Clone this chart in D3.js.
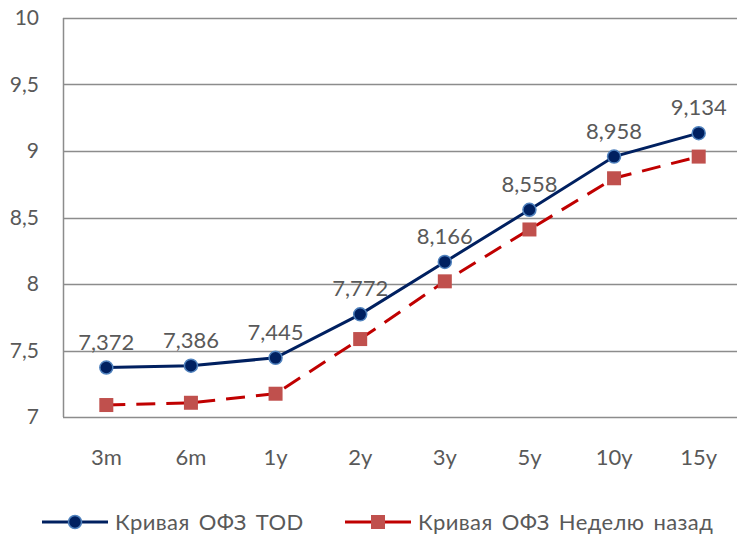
<!DOCTYPE html>
<html>
<head>
<meta charset="utf-8">
<script src="https://cdn.jsdelivr.net/npm/d3@7"></script>
<style>
  body { margin: 0; background: #fff; }
  text { font-family: Lato, "Open Sans", sans-serif; fill: #595959; }
</style>
</head>
<body>
<div id="chart"></div>
<script>
const categories = ['3m', '6m', '1y', '2y', '3y', '5y', '10y', '15y'];
const todValues = [7.372, 7.386, 7.445, 7.772, 8.166, 8.558, 8.958, 9.134];
const weekAgoValues = [7.09, 7.107, 7.175, 7.586, 8.02, 8.41, 8.795, 8.958];
const yTicks = [7, 7.5, 8, 8.5, 9, 9.5, 10];
const seriesNames = ['Кривая ОФЗ TOD', 'Кривая ОФЗ Неделю назад'];

const width = 737, height = 535;
const svg = d3.select('#chart').append('svg')
    .attr('width', width)
    .attr('height', height);

const x = d3.scaleBand().domain(categories).range([64, 741]);
const y = d3.scaleLinear().domain([7, 10]).range([417, 18]);
const fmt = v => String(v).replace('.', ',');

// gridlines
svg.append('g').selectAll('line')
    .data(yTicks)
    .join('line')
    .attr('x1', 63).attr('x2', width)
    .attr('y1', d => Math.round(y(d)) + 0.5).attr('y2', d => Math.round(y(d)) + 0.5)
    .attr('stroke', '#8c8c8c').attr('stroke-width', 1.5);

// left axis line
svg.append('line')
    .attr('x1', 63.5).attr('x2', 63.5)
    .attr('y1', y(10)).attr('y2', y(7))
    .attr('stroke', '#8c8c8c').attr('stroke-width', 1.5);

// y labels
svg.append('g').selectAll('text')
    .data(yTicks)
    .join('text')
    .attr('x', 39).attr('y', d => y(d))
    .attr('dy', '0.35em')
    .attr('text-anchor', 'end')
    .style('font-size', '21px')
    .text(fmt);

// x labels
svg.append('g').selectAll('text')
    .data(categories)
    .join('text')
    .attr('x', d => x(d) + x.bandwidth() / 2)
    .attr('y', 465)
    .attr('text-anchor', 'middle')
    .style('font-size', '22px')
    .text(d => d);

const cx = (d, i) => x(categories[i]) + x.bandwidth() / 2;
const line = d3.line().x(cx).y(d => y(d));

// week ago series
svg.append('path')
    .datum(weekAgoValues)
    .attr('d', line)
    .attr('fill', 'none')
    .attr('stroke', '#c00000')
    .attr('stroke-width', 3)
    .attr('stroke-dasharray', '19,11');

svg.append('g').selectAll('rect')
    .data(weekAgoValues)
    .join('rect')
    .attr('x', (d, i) => cx(d, i) - 7)
    .attr('y', d => y(d) - 7)
    .attr('width', 14).attr('height', 14)
    .attr('fill', '#c0504d');

// TOD series
svg.append('path')
    .datum(todValues)
    .attr('d', line)
    .attr('fill', 'none')
    .attr('stroke', '#002060')
    .attr('stroke-width', 3);

svg.append('g').selectAll('circle')
    .data(todValues)
    .join('circle')
    .attr('cx', cx)
    .attr('cy', d => y(d))
    .attr('r', 6.5)
    .attr('fill', '#002060')
    .attr('stroke', '#4f81bd')
    .attr('stroke-width', 1.5);

svg.append('g').selectAll('text')
    .data(todValues)
    .join('text')
    .attr('x', cx)
    .attr('y', d => y(d) - 18)
    .attr('text-anchor', 'middle')
    .style('font-size', '22px')
    .text(d => fmt(d.toFixed(3)));

// legend
const legend = svg.append('g');
const legItems = [
    { name: seriesNames[0], x0: 42, color: '#002060', marker: 'circle' },
    { name: seriesNames[1], x0: 345, color: '#c00000', marker: 'rect' }
];
const ly = 522;
legItems.forEach(it => {
    legend.append('line')
        .attr('x1', it.x0).attr('x2', it.x0 + 66)
        .attr('y1', ly).attr('y2', ly)
        .attr('stroke', it.color).attr('stroke-width', 3);
    if (it.marker === 'circle') {
        legend.append('circle')
            .attr('cx', it.x0 + 33).attr('cy', ly).attr('r', 6.5)
            .attr('fill', '#002060').attr('stroke', '#4f81bd').attr('stroke-width', 1.5);
    } else {
        legend.append('rect')
            .attr('x', it.x0 + 26).attr('y', ly - 7)
            .attr('width', 14).attr('height', 14)
            .attr('fill', '#c0504d');
    }
    legend.append('text')
        .attr('x', it.x0 + 73).attr('y', ly)
        .attr('dy', '0.35em')
        .style('font-size', '22px')
        .style('letter-spacing', '0.4px')
        .style('word-spacing', '3px')
        .text(it.name);
});
</script>
</body>
</html>
